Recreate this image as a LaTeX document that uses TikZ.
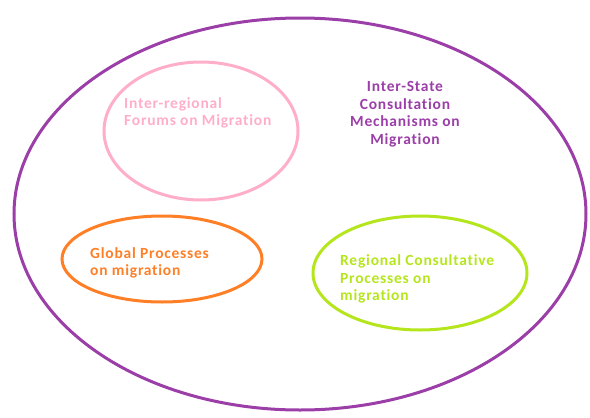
\documentclass[tikz,border=0pt]{standalone}
\usepackage{fontspec}
\setmainfont{Carlito}
\newfontfamily\ringfont[LetterSpace=5,Ligatures=NoCommon]{Carlito}
\usetikzlibrary{shapes.geometric}
\definecolor{statepurple}{RGB}{155,62,168}
\definecolor{forumpink}{RGB}{255,174,201}
\definecolor{globalorange}{RGB}{255,127,39}
\definecolor{rcpgreen}{RGB}{181,230,29}

\begin{document}
\begin{tikzpicture}[x=1pt,y=-1pt,
    ring/.style={ellipse,line width=3pt,inner sep=0pt},
    label/.style={inner sep=0pt,font=\ringfont\bfseries\fontsize{15.5}{17.5}\selectfont}]
    \useasboundingbox(0,0)rectangle(590,418);

    \node[ring,draw=statepurple,minimum width=572pt,minimum height=392pt](outer)at(300,214){};
    \node[ring,draw=forumpink,minimum width=194pt,minimum height=138pt](forum)at(201,131){};
    \node[ring,draw=globalorange,minimum width=200pt,minimum height=86pt](global)at(162,259){};
    \node[ring,draw=rcpgreen,minimum width=214pt,minimum height=114pt](rcp)at(420,273){};

    \node[label,text=statepurple,align=center](outertext)at(405,114){Inter-State\\Consultation\\Mechanisms on\\Migration};
    \node[label,text=forumpink,align=left,anchor=west](forumtext)at(124,113){Inter-regional\\Forums on Migration};
    \node[label,text=globalorange,align=left,anchor=west](globaltext)at(90,263){Global Processes\\on migration};
    \node[label,text=rcpgreen,align=left,anchor=west](rcptext)at(340,279){Regional Consultative\\Processes on\\migration};
\end{tikzpicture}
\end{document}
